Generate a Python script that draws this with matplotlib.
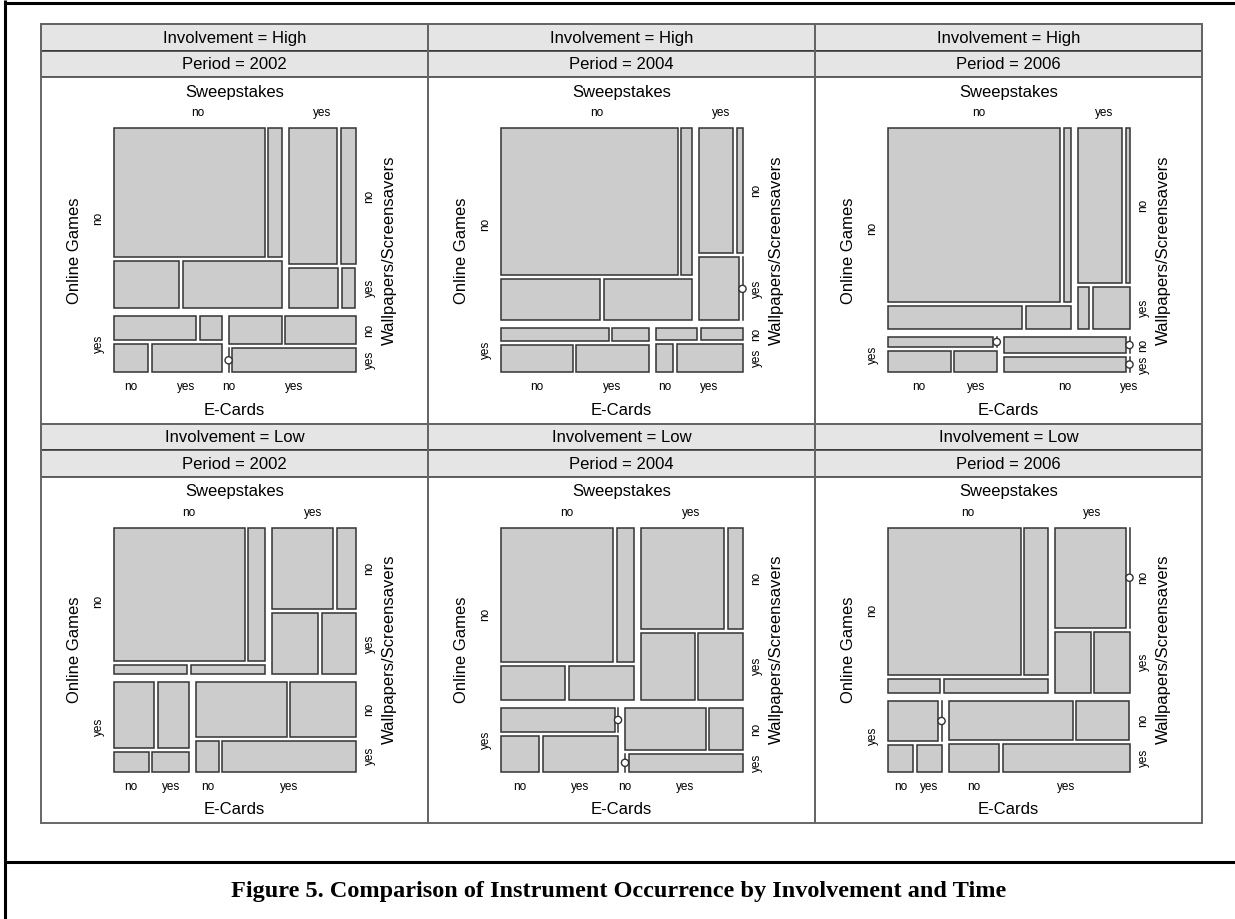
import matplotlib
matplotlib.use("Agg")
import matplotlib.pyplot as plt
from matplotlib.patches import Rectangle, Circle

# figure size in pixels (dpi 100)
FIG_W, FIG_H = 1235, 919

involvement = ["High", "High", "High", "Low", "Low", "Low"]
periods = ["2002", "2004", "2006", "2002", "2004", "2006"]
levels = ["no", "yes"]

# share of "yes" at each split, read off the tile sizes
# Online Games (rows, first split)
online_games_yes = [0.237, 0.186, 0.148, 0.38, 0.27, 0.30]
# Sweepstakes given Online Games: [panel][games]
sweepstakes_yes = [
    [0.285, 0.54],
    [0.183, 0.37],
    [0.22, 0.535],
    [0.357, 0.677],
    [0.434, 0.50],
    [0.315, 0.77],
]
# Wallpapers/Screensavers given games, sweepstakes: [panel][games][sweep]
wallpapers_yes = [
    [[0.267, 0.227], [0.54, 0.46]],
    [[0.218, 0.335], [0.675, 0.70]],
    [[0.12, 0.217], [0.70, 0.50]],
    [[0.065, 0.43], [0.235, 0.36]],
    [[0.20, 0.40], [0.60, 0.30]],
    [[0.087, 0.38], [0.40, 0.42]],
]
# E-Cards given games, sweepstakes, wallpapers: [panel][games][sweep][wall]
ecards_yes = [
    [[[0.08, 0.60], [0.235, 0.22]], [[0.21, 0.67], [0.57, 1.0]]],
    [[[0.06, 0.47], [0.15, 0.0]], [[0.25, 0.50], [0.50, 0.79]]],
    [[[0.04, 0.25], [0.08, 0.76]], [[0.0, 0.40], [0.0, 0.0]]],
    [[[0.11, 0.50], [0.235, 0.42]], [[0.44, 0.51], [0.42, 0.855]]],
    [[[0.13, 0.50], [0.15, 0.45]], [[0.0, 0.66], [0.29, 1.0]]],
    [[[0.155, 0.665], [0.0, 0.50]], [[0.0, 0.49], [0.30, 0.715]]],
]

caption = "Figure 5. Comparison of Instrument Occurrence by Involvement and Time"

# layout (pixels)
PANEL_X0, PANEL_Y0 = 41, 24
PANEL_W, PANEL_H = 387, 399.5
STRIP_H = 26.5
MOS_W, MOS_H = 242, 244
GAP_OG, GAP_S, GAP_W, GAP_E = 8, 7, 4, 3.5

TILE_FILL = "#cccccc"
EDGE = "#333333"
SANS = "Liberation Sans"
SMALL = 8.5


def split(start, length, gap, p_yes):
    usable = length - gap
    first = usable * (1 - p_yes)
    return [(start, first), (start + first + gap, usable - first)]


fig = plt.figure(figsize=(FIG_W / 100, FIG_H / 100), dpi=100)
ax = fig.add_axes([0, 0, 1, 1])
ax.set_xlim(0, FIG_W)
ax.set_ylim(FIG_H, 0)
ax.axis("off")

# page frame and caption rule
ax.plot([5, 5], [0, FIG_H], color="black", lw=2.2, solid_capstyle="butt")
ax.plot([5, FIG_W], [3, 3], color="black", lw=2.2, solid_capstyle="butt")
ax.plot([5, FIG_W], [862, 862], color="black", lw=2.2, solid_capstyle="butt")
ax.text(FIG_W / 2 + 1, 891, caption, ha="center", va="center",
        family="Liberation Serif", weight="bold", fontsize=17.5)

for k in range(6):
    px = PANEL_X0 + (k % 3) * PANEL_W
    py = PANEL_Y0 + (k // 3) * PANEL_H

    # strips
    for i, label in enumerate([f"Involvement = {involvement[k]}", f"Period = {periods[k]}"]):
        sy = py + i * STRIP_H
        ax.add_patch(Rectangle((px, sy), PANEL_W, STRIP_H, facecolor="#e5e5e5",
                               edgecolor=EDGE, lw=1.1))
        ax.text(px + PANEL_W / 2, sy + STRIP_H / 2 + 1, label, ha="center", va="center",
                family=SANS, fontsize=12)
    ax.add_patch(Rectangle((px, py), PANEL_W, PANEL_H, facecolor="none",
                           edgecolor="#666666", lw=1.4))

    plot_top = py + 2 * STRIP_H
    mx = px + (PANEL_W - MOS_W) / 2
    my = plot_top + (PANEL_H - 2 * STRIP_H - MOS_H) / 2

    og_cells = split(my, MOS_H, GAP_OG, online_games_yes[k])
    for g, (gy, gh) in enumerate(og_cells):
        s_cells = split(mx, MOS_W, GAP_S, sweepstakes_yes[k][g])
        for s, (sx, sw) in enumerate(s_cells):
            w_cells = split(gy, gh, GAP_W, wallpapers_yes[k][g][s])
            for w, (wy, wh) in enumerate(w_cells):
                e_cells = split(sx, sw, GAP_E, ecards_yes[k][g][s][w])
                for e, (ex, ew) in enumerate(e_cells):
                    if ew < 0.5:
                        # empty cell: line with a circle
                        ax.plot([ex, ex], [wy, wy + wh], color=EDGE, lw=1.1)
                        ax.add_patch(Circle((ex, wy + wh / 2), 3.6, facecolor="white",
                                            edgecolor=EDGE, lw=1.0, zorder=3))
                    else:
                        ax.add_patch(Rectangle((ex, wy), ew, wh, facecolor=TILE_FILL,
                                               edgecolor=EDGE, lw=1.1))
                    # E-Cards labels along the bottom row
                    if g == 1 and w == 1:
                        ax.text(ex + max(ew, 0) / 2, my + MOS_H + 15, levels[e],
                                ha="center", va="center", family=SANS, fontsize=SMALL)
                # Wallpapers labels along the right column
                if s == 1:
                    ax.text(mx + MOS_W + 14, wy + wh / 2, levels[w], rotation=90,
                            ha="center", va="center", family=SANS, fontsize=SMALL)
            # Sweepstakes labels along the top row
            if g == 0:
                ax.text(sx + sw / 2, my - 15, levels[s], ha="center", va="center",
                        family=SANS, fontsize=SMALL)
        ax.text(mx - 15, gy + gh / 2, levels[g], rotation=90, ha="center", va="center",
                family=SANS, fontsize=SMALL)

    ax.text(mx + MOS_W / 2, my - 36, "Sweepstakes", ha="center", va="center",
            family=SANS, fontsize=12)
    ax.text(mx + MOS_W / 2, my + MOS_H + 38, "E-Cards", ha="center", va="center",
            family=SANS, fontsize=12)
    ax.text(mx - 39, my + MOS_H / 2, "Online Games", rotation=90, ha="center",
            va="center", family=SANS, fontsize=12)
    ax.text(mx + MOS_W + 34, my + MOS_H / 2, "Wallpapers/Screensavers", rotation=90,
            ha="center", va="center", family=SANS, fontsize=12)

fig.savefig("out.png", dpi=100)
